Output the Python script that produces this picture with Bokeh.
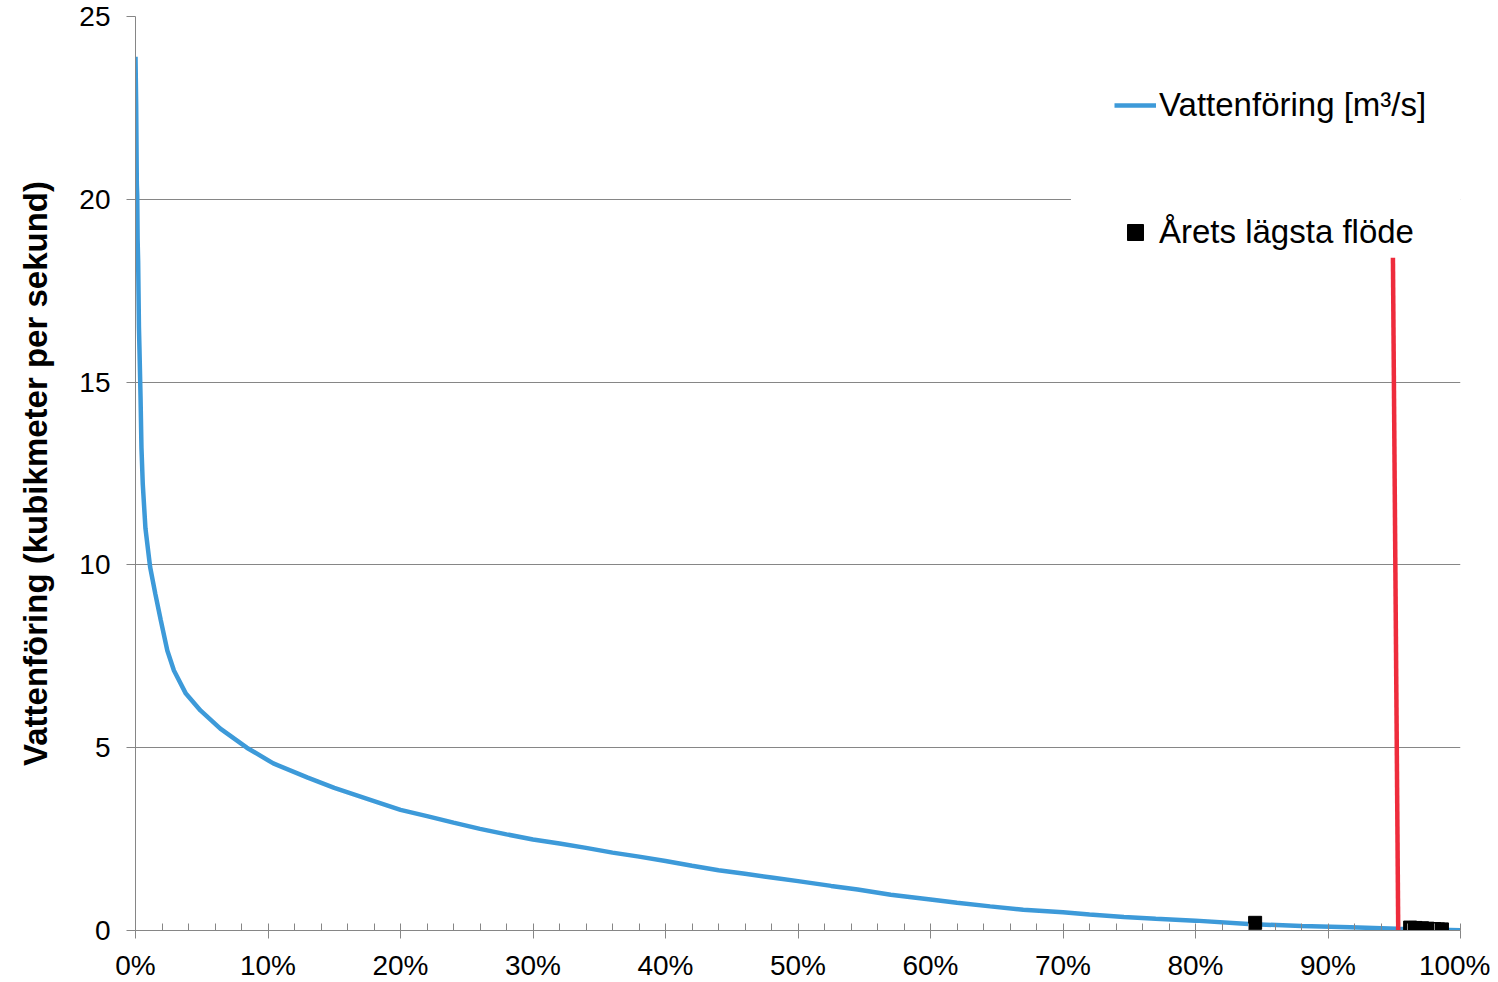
from bokeh.plotting import figure
from bokeh.models import Range1d, FixedTicker, PrintfTickFormatter, Legend, LegendItem, BoxAnnotation
from bokeh.embed import file_html
from bokeh.resources import INLINE

# flow duration curve: share of time (%) vs flow (m3/s)
pct = [0, 0.05, 0.1, 0.13, 0.16, 0.2, 0.23, 0.26, 0.3, 0.38,
       0.45, 0.55, 0.75, 1.1, 1.5, 1.9, 2.4, 2.9, 3.8, 4.9,
       6.4, 8.4, 10.4, 13.0, 15.0, 18.0, 20, 22, 24, 26,
       28, 30, 32, 34, 36, 38, 40, 42, 44, 46,
       48, 50, 52.5, 54.5, 57, 60, 62, 64.5, 67, 70,
       72, 74.6, 77, 80, 84, 88, 91.7, 95.2, 100]
flow = [23.9, 22.6, 20.4, 20.1, 18.9, 18.3, 17.4, 16.5, 15.9, 14.6,
        13.2, 12.2, 11.0, 9.95, 9.2, 8.5, 7.66, 7.11, 6.48, 6.02,
        5.52, 5.0, 4.57, 4.18, 3.9, 3.54, 3.3, 3.13, 2.95, 2.78,
        2.63, 2.49, 2.38, 2.26, 2.13, 2.02, 1.9, 1.77, 1.65, 1.55,
        1.45, 1.35, 1.22, 1.12, 0.98, 0.85, 0.76, 0.66, 0.57, 0.5,
        0.44, 0.37, 0.32, 0.27, 0.18, 0.12, 0.09, 0.05, 0.01]

# yearly minimum flows
low_x = [84.5, 96.2, 96.6, 97.1, 97.5, 98.0, 98.3, 98.6]
low_y = [0.21, 0.08, 0.07, 0.06, 0.05, 0.04, 0.03, 0.03]

# red marker line
red_x = [94.9, 95.3]
red_y = [18.4, 0]

x_ticks = [0, 10, 20, 30, 40, 50, 60, 70, 80, 90, 100]
x_minor = list(range(0, 101, 2))
y_ticks = [0, 5, 10, 15, 20, 25]

FONT = "Liberation Sans"
GREY = "#868686"

p = figure(frame_width=1325, frame_height=914,
           x_range=Range1d(0, 100), y_range=Range1d(0, 25),
           output_backend="svg", toolbar_location=None,
           min_border_left=135, min_border_top=16,
           min_border_right=30, min_border_bottom=44)
p.outline_line_color = None
p.xgrid.visible = False
p.ygrid.grid_line_color = GREY
p.ygrid.grid_line_width = 1

xa = p.xaxis[0]
xa.ticker = FixedTicker(ticks=x_ticks, minor_ticks=x_minor)
xa.formatter = PrintfTickFormatter(format="%d%%")
xa.axis_line_color = GREY
xa.major_tick_line_color = GREY
xa.minor_tick_line_color = GREY
xa.major_tick_in = 0
xa.major_tick_out = 8
xa.minor_tick_in = 7
xa.minor_tick_out = 0
xa.major_label_text_font = FONT
xa.major_label_text_font_size = "28px"
xa.major_label_text_color = "black"
xa.major_label_standoff = 11

ya = p.yaxis[0]
ya.ticker = FixedTicker(ticks=y_ticks, minor_ticks=[])
ya.axis_line_color = GREY
ya.major_tick_line_color = GREY
ya.major_tick_in = 0
ya.major_tick_out = 9
ya.major_label_text_font = FONT
ya.major_label_text_font_size = "28px"
ya.major_label_text_color = "black"
ya.major_label_standoff = 16
ya.axis_label = "Vattenföring (kubikmeter per sekund)"
ya.axis_label_text_font = FONT
ya.axis_label_text_font_size = "33px"
ya.axis_label_text_font_style = "bold"
ya.axis_label_text_color = "black"
ya.axis_label_standoff = 22

blue = p.line(pct, flow, line_width=4.5, color="#3D9AD9")
p.line(red_x, red_y, line_width=4.5, color="#EE2C3C")
squares = p.scatter(low_x, low_y, marker="square", size=13, color="black")

# Excel's legend box hides part of the 20 gridline
p.add_layout(BoxAnnotation(left=70.6, right=100.5, bottom=18.5, top=23.5,
                           fill_color="white", fill_alpha=1, line_color=None))

legend = Legend(items=[LegendItem(label="Vattenföring [m³/s]", renderers=[blue]),
                       LegendItem(label="Årets lägsta flöde", renderers=[squares])],
                location=(979, 678), margin=0, padding=8,
                glyph_width=42, glyph_height=40, label_height=40,
                label_standoff=3, spacing=87,
                label_text_font=FONT, label_text_font_size="33px",
                label_text_color="black",
                background_fill_alpha=0, border_line_color=None)
p.add_layout(legend)

open("out.html", "w").write(file_html(p, INLINE))
